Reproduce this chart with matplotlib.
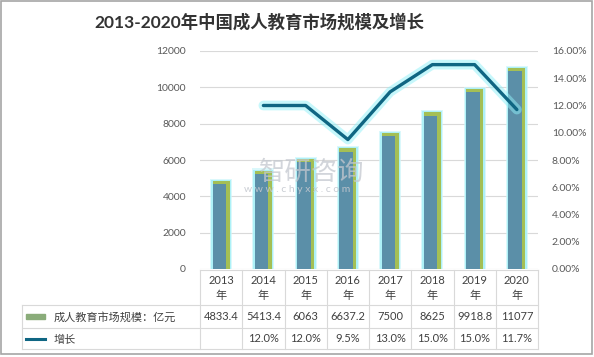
import matplotlib.pyplot as plt
import numpy as np
from matplotlib.patches import Rectangle
from matplotlib.lines import Line2D

plt.rcParams['font.family'] = ['Lato', 'Noto Sans CJK SC', 'DejaVu Sans']

years = ['2013', '2014', '2015', '2016', '2017', '2018', '2019', '2020']
market = [4833.4, 5413.4, 6063, 6637.2, 7500, 8625, 9918.8, 11077]
market_labels = ['4833.4', '5413.4', '6063', '6637.2', '7500', '8625', '9918.8', '11077']
growth = [np.nan, 12.0, 12.0, 9.5, 13.0, 15.0, 15.0, 11.7]
growth_labels = ['', '12.0%', '12.0%', '9.5%', '13.0%', '15.0%', '15.0%', '11.7%']
series_names = ['成人教育市场规模：亿元', '增长']
title = '2013-2020年中国成人教育市场规模及增长'

W, H = 594, 357
fig = plt.figure(figsize=(W / 100, H / 100), dpi=100)

# pixel overlay for frame / table
ov = fig.add_axes([0, 0, 1, 1])
ov.set_xlim(0, W)
ov.set_ylim(H, 0)
ov.axis('off')

L, R, T, B = 200, 538, 51, 269
ax = fig.add_axes([L / W, 1 - B / H, (R - L) / W, (B - T) / H])
ax2 = ax.twinx()

x = np.arange(len(years))
ax.set_xlim(-0.5, len(years) - 0.5)
ax.set_ylim(0, 12000)
ax2.set_ylim(0, 16)

# bars: glow, green edge, blue body
ax.bar(x, np.array(market) + 120, width=0.52, color='#cdf6fa', alpha=0.7, zorder=2)
ax.bar(x, np.array(market) + 60, width=0.47, color='#a3f0f7', alpha=0.8, zorder=2)
ax.bar(x, market, width=0.40, color='#a4bf55', zorder=3)
ax.bar(x - 0.04, np.array(market) - 180, width=0.32, color='#5b8fa8', zorder=4)

# growth line with glow
ax2.plot(x, growth, color='#8ff0f8', lw=7, alpha=0.5, solid_capstyle='round', zorder=5)
ax2.plot(x, growth, color='#0f6683', lw=2.4, solid_capstyle='round', zorder=6)

ax.set_yticks(np.arange(0, 12001, 2000))
ax.set_yticklabels([str(v) for v in range(0, 12001, 2000)], fontsize=7.5, color='#595959')
ax2.set_yticks(np.arange(0, 16.1, 2))
ax2.set_yticklabels(['%.2f%%' % v for v in np.arange(0, 16.1, 2)], fontsize=7.5, color='#595959')
ax.tick_params(axis='y', length=0, pad=10)
ax2.tick_params(axis='y', length=0, pad=10)
ax.set_xticks([])
ax.grid(axis='y', color='#d9d9d9', lw=0.8)
ax.set_axisbelow(True)
for a in (ax, ax2):
    for s in a.spines.values():
        s.set_visible(False)

# watermark
ax.text(2.15, 5340, '智研咨询', fontsize=19, color='#c4c8cf', alpha=0.75, ha='center', va='center', zorder=7)
ax.text(1.8, 4350, 'w w w . c h y x x . c o m', fontsize=7.5, color='#c4c8cf', alpha=0.9, ha='center', va='center', zorder=7)

# data table under the chart
col_w = (R - L) / len(years)
lc = '#d9d9d9'
ov.add_line(Line2D([L, R], [B + 1, B + 1], color=lc, lw=0.8))
for yy in (305, 328, 349):
    ov.add_line(Line2D([22, R], [yy, yy], color=lc, lw=0.8))
ov.add_line(Line2D([22, 22], [305, 349], color=lc, lw=0.8))
for i in range(len(years) + 1):
    xx = L + i * col_w
    ov.add_line(Line2D([xx, xx], [B + 1, 349], color=lc, lw=0.8))

for i, yr in enumerate(years):
    cx = L + (i + 0.5) * col_w
    ov.text(cx, 281, yr, fontsize=8, color='#404040', ha='center', va='center')
    ov.text(cx, 296, '年', fontsize=8, color='#404040', ha='center', va='center')
    ov.text(cx, 317, market_labels[i], fontsize=8, color='#404040', ha='center', va='center')
    ov.text(cx, 339, growth_labels[i], fontsize=8, color='#404040', ha='center', va='center')

ov.add_patch(Rectangle((26, 314), 19, 5, color='#8aac7a'))
ov.text(54, 317, series_names[0], fontsize=8, color='#404040', ha='left', va='center')
ov.add_line(Line2D([26, 45], [339, 339], color='#0f6683', lw=2.2))
ov.text(54, 339, series_names[1], fontsize=8, color='#404040', ha='left', va='center')

ov.text(259, 22, title, fontsize=12.5, fontweight='bold', color='#333333', ha='center', va='center')

# outer frame
ov.add_patch(Rectangle((1, 1), W - 3, H - 4, fill=False, ec='#a6a6a6', lw=1.2))

fig.savefig('out.png', dpi=100)
